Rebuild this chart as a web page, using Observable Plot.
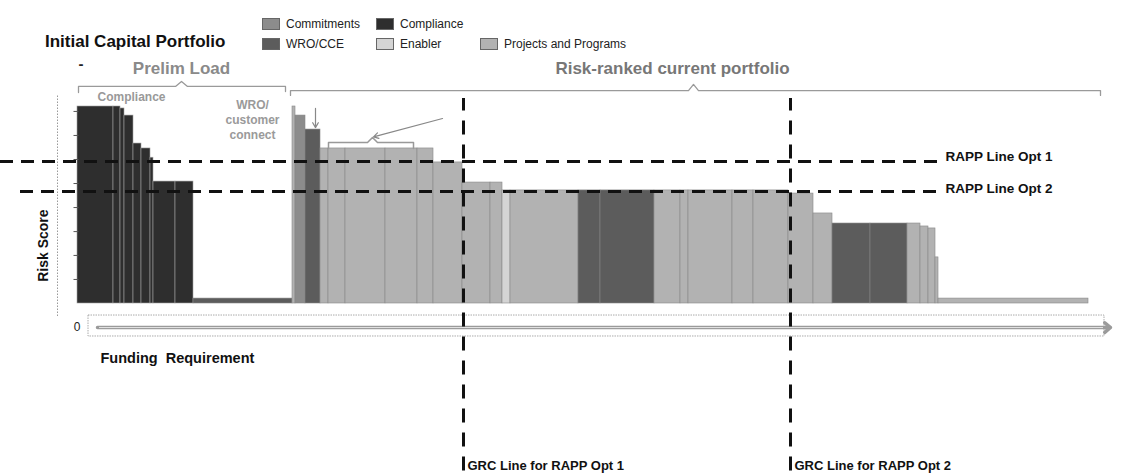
<!DOCTYPE html>
<html><head><meta charset="utf-8">
<script src="https://cdn.jsdelivr.net/npm/d3@7"></script>
<script src="https://cdn.jsdelivr.net/npm/@observablehq/plot@0.6"></script>
<style>
body{margin:0;background:#fff;font-family:"Liberation Sans",Arial,sans-serif;}
#wrap{position:relative;width:1121px;height:473px;overflow:hidden;}
#chart{position:absolute;left:0;top:0;}
.t{position:absolute;white-space:nowrap;}
.sw{position:absolute;width:18px;height:12px;border:1px solid #666;box-sizing:border-box;}
.lg{position:absolute;font-size:12px;line-height:12px;color:#222;white-space:nowrap;}
</style></head><body>
<div id="wrap">
<div id="chart"></div>
<div class="t" style="left:45px;top:32px;font-size:17px;font-weight:bold;color:#111">Initial Capital Portfolio</div>
<div id="legend"></div>
</div>
<script>
// ---------- data ----------
const categories = ["Commitments", "Compliance", "WRO/CCE", "Enabler", "Projects and Programs"];
const categoryColors = ["#8c8c8c", "#2e2e2e", "#5c5c5c", "#d4d4d4", "#b2b2b2"];

// each bar: funding width, risk score, category
const barFunding = [3.6, 0.7, 0.4, 0.9, 0.8, 0.9, 0.3, 2.2, 1.8, 9.9,
  0.3, 1.0, 1.5, 0.8, 1.7, 4.0, 3.2, 1.6, 2.9, 2.8,
  1.2, 0.8, 6.8, 2.2, 5.4, 2.6, 0.8, 4.4, 2.1, 3.5,
  2.5, 1.9, 3.8, 3.7, 1.3, 0.8, 0.7, 0.3, 15.0];
const barRisk = [100, 100, 99, 95.4, 81.2, 78.7, 74, 61.9, 61.9, 2.5,
  100, 95.4, 88.3, 78.7, 78.7, 78.7, 78.7, 78.7, 71.6, 61.4,
  61.4, 57.4, 57.4, 57.4, 57.4, 57.4, 57.4, 57.4, 57.4, 57.4,
  55.8, 45.7, 40.6, 40.6, 40.6, 39.1, 38.1, 23.4, 2.5];
const barCategory = ["Compliance", "Compliance", "Compliance", "Compliance", "Compliance", "Compliance", "Compliance", "Compliance", "Compliance", "WRO/CCE",
  "Projects and Programs", "Commitments", "WRO/CCE", "Projects and Programs", "Projects and Programs", "Projects and Programs", "Projects and Programs", "Projects and Programs", "Projects and Programs", "Projects and Programs",
  "Projects and Programs", "Enabler", "Projects and Programs", "WRO/CCE", "WRO/CCE", "Projects and Programs", "Projects and Programs", "Projects and Programs", "Projects and Programs", "Projects and Programs",
  "Projects and Programs", "Projects and Programs", "WRO/CCE", "WRO/CCE", "Projects and Programs", "Projects and Programs", "Projects and Programs", "Projects and Programs", "Projects and Programs"];

// reference lines
const rappLabels = ["RAPP Line Opt 1", "RAPP Line Opt 2"];
const rappRisk = [72.1, 56.9];
const grcLabels = ["GRC Line for RAPP Opt 1", "GRC Line for RAPP Opt 2"];
const grcFunding = [38.6, 71.3];

// section labels
const sectionLabels = ["Prelim Load", "Risk-ranked current portfolio"];
const sectionCenters = [10.4, 59.5];

// ---------- build ----------
const colorOf = c => categoryColors[categories.indexOf(c)];
let cum = 0;
const bars = barFunding.map((w, i) => {
  const b = {x1: cum, x2: cum + w, risk: barRisk[i], cat: barCategory[i]};
  cum += w;
  return b;
});

const braces = [
  {x: 0.1, y: 107.1, z: "a"}, {x: 0.1, y: 110.2, z: "a"}, {x: 9.8, y: 110.2, z: "a"}, {x: 10.4, y: 112.7, z: "a"},
  {x: 11.0, y: 110.2, z: "a"}, {x: 20.8, y: 110.2, z: "a"}, {x: 20.8, y: 107.6, z: "a"},
  {x: 21.3, y: 105.6, z: "b"}, {x: 21.3, y: 108.1, z: "b"}, {x: 61.1, y: 108.1, z: "b"}, {x: 61.6, y: 111.2, z: "b"},
  {x: 62.1, y: 108.1, z: "b"}, {x: 102.3, y: 108.1, z: "b"}, {x: 102.3, y: 105.6, z: "b"}
];
const bracket = [
  {x: 25.1, y: 78.7}, {x: 25.1, y: 81.7}, {x: 29.0, y: 81.7}, {x: 29.5, y: 84.3},
  {x: 30.0, y: 81.7}, {x: 33.6, y: 81.7}, {x: 33.6, y: 78.7}
];
const pointers = [
  {x1: 23.8, y1: 99, x2: 23.8, y2: 89.3},
  {x1: 36.5, y1: 93.9, x2: 29.6, y2: 84.6}
];
const yTicks = [12.2, 24.4, 36.5, 48.7, 60.9, 73.1, 85.3, 97.5];

const font = "'Liberation Sans', Arial, sans-serif";
const chart = Plot.plot({
  width: 1121,
  height: 473,
  margin: 0,
  style: {background: "#fff", fontFamily: font, overflow: "visible"},
  x: {domain: [0, 102], range: [77, 1097], axis: null},
  y: {domain: [0, 100], range: [303, 106], axis: null},
  color: {type: "identity"},
  marks: [
    Plot.rect(bars, {x1: "x1", x2: "x2", y1: 0, y2: "risk",
      fill: d => colorOf(d.cat),
      stroke: d => d.cat === "Compliance" ? "#a0a0a0" : "#888", strokeWidth: 0.6}),
    Plot.ruleX([-2], {y1: -6.6, y2: 105.6, stroke: "#999", strokeDasharray: "1.5,1.5"}),
    Plot.ruleY(yTicks, {x1: -0.35, x2: 0.15, stroke: "#555", strokeWidth: 1}),
    Plot.line(braces, {x: "x", y: "y", z: "z", stroke: "#9a9a9a", strokeWidth: 1.3}),
    Plot.line(bracket, {x: "x", y: "y", stroke: "#999", strokeWidth: 1.5}),
    Plot.arrow(pointers, {x1: "x1", y1: "y1", x2: "x2", y2: "y2", stroke: "#888", strokeWidth: 1.2, headLength: 7}),
    // funding axis box + arrow
    Plot.rect([0], {x1: 1.1, x2: 102.7, y1: -6.1, y2: -16.75, fill: "none", stroke: "#aaa", strokeDasharray: "1.5,1"}),
    Plot.arrow([0], {x1: 2.0, x2: 103.3, y1: -12.2, y2: -12.2, stroke: "#9a9a9a", strokeWidth: 3.5, headLength: 3.2, headAngle: 80}),
    Plot.ruleY([-12.2], {x1: 2.2, x2: 102.6, stroke: "#e4e4e4", strokeWidth: 1}),
    // RAPP lines
    Plot.ruleY(rappRisk, {x1: (d, i) => [-7.7, -5.7][i], x2: (d, i) => [86.0, 86.6][i],
      stroke: "#111", strokeWidth: 3, strokeDasharray: "13,8"}),
    Plot.text(rappLabels, {x: 86.8, y: (d, i) => rappRisk[i] + 2.2 - i * 0.7, text: d => d, textAnchor: "start",
      fontSize: 13.5, fontWeight: "bold", fill: "#111"}),
    // GRC lines
    Plot.ruleX(grcFunding, {y1: -85, y2: 104, stroke: "#111", strokeWidth: 3, strokeDasharray: "14,10"}),
    Plot.text(grcLabels, {x: (d, i) => grcFunding[i] + 0.4, y: -82.2, text: d => d, textAnchor: "start",
      fontSize: 13, fontWeight: "bold", fill: "#111"}),
    // section labels
    Plot.text(sectionLabels, {x: (d, i) => sectionCenters[i], y: 119.3, text: d => d,
      fontSize: 17, fontWeight: "bold", fill: (d, i) => ["#8a8a8a", "#777"][i]}),
    Plot.text(["-"], {x: 0.1, y: 121.5, text: d => d, textAnchor: "start", fontSize: 15, fontWeight: "bold", fill: "#222"}),
    Plot.text(["Compliance"], {x: 5.4, y: 104.6, text: d => d, fontSize: 12, fontWeight: "bold", fill: "#999"}),
    Plot.text(["WRO/\ncustomer\nconnect"], {x: 17.5, y: 93.4, text: d => d, fontSize: 12, fontWeight: "bold", fill: "#9a9a9a", lineHeight: 1.25}),
    // axis labels
    Plot.text(["0"], {x: 0.3, y: -12.2, text: d => d, textAnchor: "end", fontSize: 12, fill: "#222"}),
    Plot.text(["Funding  Requirement"], {x: 2.3, y: -28, text: d => d, textAnchor: "start", fontSize: 14.5, fontWeight: "bold", fill: "#111"}),
    Plot.text(["Risk Score"], {x: -3.4, y: 29.4, text: d => d, rotate: -90, fontSize: 14, fontWeight: "bold", fill: "#111"})
  ]
});
document.getElementById("chart").appendChild(chart);

// legend
const legendPos = [[262, 18], [376, 18], [262, 38], [376, 38], [480, 38]];
const lg = document.getElementById("legend");
categories.forEach((c, i) => {
  const [lx, ly] = legendPos[i];
  const sw = document.createElement("div");
  sw.className = "sw";
  sw.style.left = lx + "px"; sw.style.top = ly + "px"; sw.style.background = categoryColors[i];
  lg.appendChild(sw);
  const t = document.createElement("div");
  t.className = "lg";
  t.style.left = (lx + 24) + "px"; t.style.top = (ly + 0) + "px";
  t.textContent = c;
  lg.appendChild(t);
});
</script>
</body></html>
